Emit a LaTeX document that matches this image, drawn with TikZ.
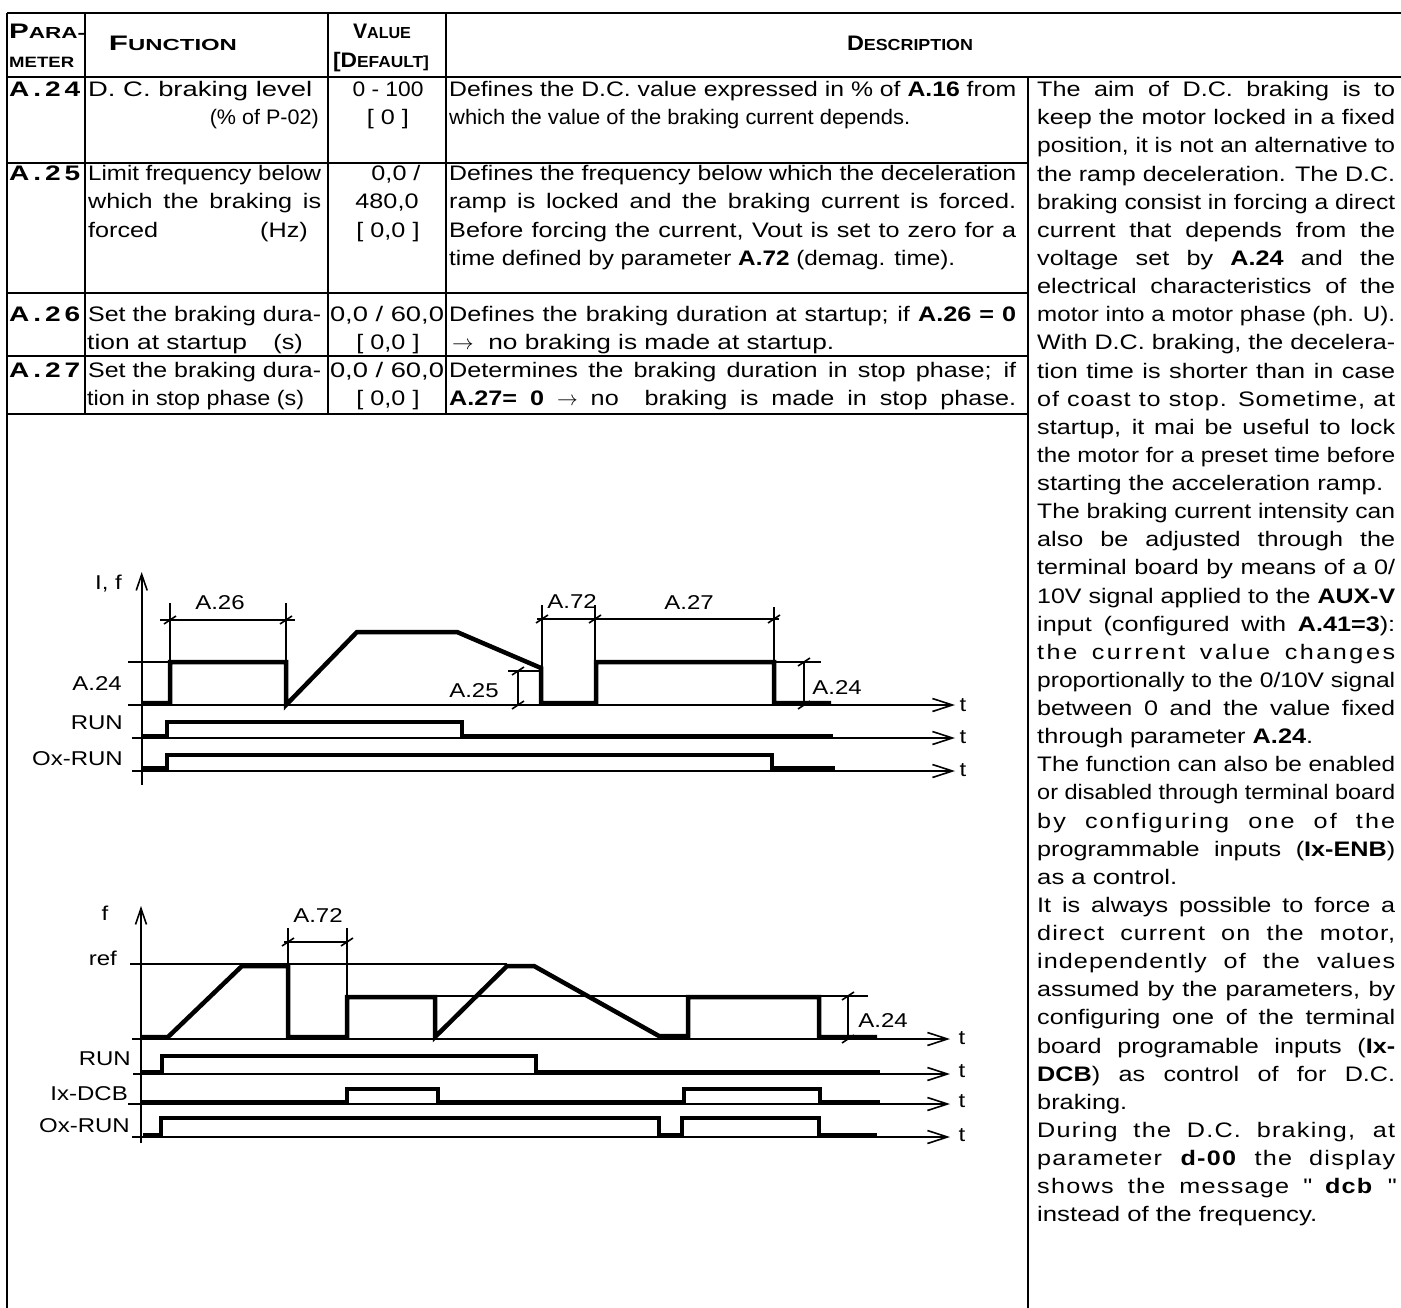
\documentclass[tikz,border=0pt]{standalone}
\usepackage{fontspec}
\setmainfont{Liberation Sans}[FakeStretch=1.2]
\usepackage{graphicx}
\usetikzlibrary{arrows.meta}

\newcommand\rtxt{\fontsize{21}{28.13}\selectfont}
\newcommand\celltxt{\fontsize{21}{27}\selectfont}
\newcommand\lbltxt{\fontsize{20}{22}\selectfont}
\newlength\cw
\setlength\cw{358pt}
\newsavebox\lnbox
% justified line: spaces stretched, squeezed when too long
\newcommand\jl[2]{\sbox\lnbox{#2}\ifdim\wd\lnbox>#1\relax\resizebox{#1}{\height}{\usebox\lnbox}\else\makebox[#1][s]{#2}\fi\strut}
% justified line with letter spacing
\newcommand\lj[2]{{\addfontfeature{LetterSpace=#1}\jl{\cw}{#2}}}
% line scaled to a given width
\newcommand\fl[2]{\resizebox{#1}{\height}{#2}\strut}
\newcommand\hd[2]{\textbf{{\fontsize{21}{21}\selectfont #1}{\fontsize{16}{16}\selectfont #2}}}
\newcommand\tk[1]{\draw[thin] (#1) ++(-6,4) -- ++(12,-8);}

\begin{document}
\begin{tikzpicture}[x=1pt,y=-1pt,
    every node/.style={inner sep=0pt, font=\celltxt},
    grid/.style={line width=2.6pt},
    thin/.style={line width=1.6pt},
    sig/.style={line width=4.5pt, line join=miter},
    taxis/.style={thin, -{Straight Barb[length=20pt,width=13pt]}},
    yaxis/.style={thin, -{Straight Barb[length=16pt,width=11pt]}},
    lbl/.style={font=\lbltxt, anchor=base}]
    \useasboundingbox (0,0) rectangle (1401,1308);

    % table rules
    \draw[grid] (7,13) -- (1401,13);
    \draw[grid] (7,77) -- (1401,77);
    \foreach \yy in {163,293,356,414} \draw[grid] (7,\yy) -- (1028,\yy);
    \draw[grid] (7,13) -- (7,1308);
    \foreach \xx in {85,328,446} \draw[grid] (\xx,13) -- (\xx,414);
    \draw[grid] (1028,77) -- (1028,1308);

    % header
    \node[anchor=base west] (h1) at (9,39) {\fl{76pt}{\hd{P}{ARA-}}};
    \node[anchor=base west] (h2) at (9,68) {\fl{65pt}{\textbf{\fontsize{15}{15}\selectfont METER}}};
    \node[anchor=base] (h3) at (173,51) {\fl{128pt}{\hd{F}{UNCTION}}};
    \node[anchor=base] (h4) at (382,39) {\fl{58pt}{\hd{V}{ALUE}}};
    \node[anchor=base] (h5) at (381,68) {\fl{96pt}{\hd{[D}{EFAULT]}}};
    \node[anchor=base] (h6) at (910,51) {\fl{126pt}{\hd{D}{ESCRIPTION}}};

    % A.24
    \node[anchor=base west] (p24) at (9,96.5) {\fl{71pt}{\textbf{A\,.\,2\,4}}};
    \node[anchor=base west] (f24a) at (88,96.5) {\fl{224pt}{D. C. braking level}};
    \node[anchor=base east] (f24b) at (319,124.6) {\fl{109pt}{(\% of P-02)}};
    \node[anchor=base] (v24a) at (388,96.5) {\fl{71pt}{0 - 100}};
    \node[anchor=base] (v24b) at (388,124.6) {[ 0 ]};
    \node[anchor=base west] (d24a) at (449,96.5) {\jl{567pt}{Defines the D.C. value expressed in \% of \textbf{A.16} from}};
    \node[anchor=base west] (d24b) at (449,124.6) {\fl{461pt}{which the value of the braking current depends.}};

    % A.25
    \node[anchor=base west] (p25) at (9,180.9) {\fl{71pt}{\textbf{A\,.\,2\,5}}};
    \node[anchor=base west] (f25a) at (88,180.9) {\jl{233pt}{Limit frequency below}};
    \node[anchor=base west] (f25b) at (88,209) {\jl{233pt}{which the braking is}};
    \node[anchor=base west] (f25c) at (88,237.2) {forced};
    \node[anchor=base east] (f25d) at (308,237.2) {(Hz)};
    \node[anchor=base] (v25a) at (396,180.9) {0,0 /};
    \node[anchor=base] (v25b) at (387,209) {480,0};
    \node[anchor=base] (v25c) at (388,237.2) {[ 0,0 ]};
    \node[anchor=base west] (d25a) at (449,180.9) {\jl{567pt}{Defines the frequency below which the deceleration}};
    \node[anchor=base west] (d25b) at (449,209) {\jl{567pt}{ramp is locked and the braking current is forced.}};
    \node[anchor=base west] (d25c) at (449,237.2) {\jl{567pt}{Before forcing the current, Vout is set to zero for a}};
    \node[anchor=base west] (d25d) at (449,265.3) {\fl{506pt}{time defined by parameter \textbf{A.72} (demag. time).}};

    % A.26
    \node[anchor=base west] (p26) at (9,321.5) {\fl{71pt}{\textbf{A\,.\,2\,6}}};
    \node[anchor=base west] (f26a) at (88,321.5) {\jl{233pt}{Set the braking dura-}};
    \node[anchor=base west] (f26b) at (87,349.7) {\fl{160pt}{tion at startup}};
    \node[anchor=base east] (f26c) at (303,349.7) {(s)};
    \node[anchor=base] (v26a) at (387,321.5) {\fl{114pt}{0,0 / 60,0}};
    \node[anchor=base] (v26b) at (388,349.7) {[ 0,0 ]};
    \node[anchor=base west] (d26a) at (449,321.5) {\jl{567pt}{Defines the braking duration at startup; if \textbf{A.26 = 0}}};
    \node[anchor=base west] (d26b) at (452,349.7) {\fl{382pt}{$\rightarrow$\ \ no braking is made at startup.}};

    % A.27
    \node[anchor=base west] (p27) at (9,377.8) {\fl{71pt}{\textbf{A\,.\,2\,7}}};
    \node[anchor=base west] (f27a) at (88,377.8) {\jl{233pt}{Set the braking dura-}};
    \node[anchor=base west] (f27b) at (87,405.9) {\fl{217pt}{tion in stop phase (s)}};
    \node[anchor=base] (v27a) at (387,377.8) {\fl{114pt}{0,0 / 60,0}};
    \node[anchor=base] (v27b) at (388,405.9) {[ 0,0 ]};
    \node[anchor=base west] (d27a) at (449,377.8) {\jl{567pt}{Determines the braking duration in stop phase; if}};
    \node[anchor=base west] (d27b) at (449,405.9) {\jl{567pt}{\textbf{A.27= 0} $\rightarrow$ no\ \ braking is made in stop phase.}};

    % right column
    \node[anchor=north west, align=left, font=\rtxt] (rtext) at (1037,76.8) {%
        \jl{\cw}{The aim of D.C. braking is to}\\
        \jl{\cw}{keep the motor locked in a fixed}\\
        \jl{\cw}{position, it is not an alternative to}\\
        \jl{\cw}{the ramp deceleration. The D.C.}\\
        \jl{\cw}{braking consist in forcing a direct}\\
        \jl{\cw}{current that depends from the}\\
        \jl{\cw}{voltage set by \textbf{A.24} and the}\\
        \jl{\cw}{electrical characteristics of the}\\
        \jl{\cw}{motor into a motor phase (ph. U).}\\
        \jl{\cw}{With D.C. braking, the decelera-}\\
        \jl{\cw}{tion time is shorter than in case}\\
        \lj{4}{of coast to stop. Sometime, at}\\
        \jl{\cw}{startup, it mai be useful to lock}\\
        \jl{\cw}{the motor for a preset time before}\\
        \fl{346pt}{starting the acceleration ramp.}\\
        \jl{\cw}{The braking current intensity can}\\
        \jl{\cw}{also be adjusted through the}\\
        \jl{\cw}{terminal board by means of a 0/}\\
        \jl{\cw}{10V signal applied to the \textbf{AUX-V}}\\
        \jl{\cw}{input (configured with \textbf{A.41=3}):}\\
        \lj{12}{the current value changes}\\
        \jl{\cw}{proportionally to the 0/10V signal}\\
        \jl{\cw}{between 0 and the value fixed}\\
        \fl{276pt}{through parameter \textbf{A.24}.}\\
        \jl{\cw}{The function can also be enabled}\\
        \jl{\cw}{or disabled through terminal board}\\
        \lj{10}{by configuring one of the}\\
        \jl{\cw}{programmable inputs (\textbf{Ix-ENB})}\\
        \fl{140pt}{as a control.}\\
        \jl{\cw}{It is always possible to force a}\\
        \lj{5}{direct current on the motor,}\\
        \lj{5}{independently of the values}\\
        \jl{\cw}{assumed by the parameters, by}\\
        \jl{\cw}{configuring one of the terminal}\\
        \jl{\cw}{board programable inputs (\textbf{Ix-}}\\
        \jl{\cw}{\textbf{DCB}) as control of for D.C.}\\
        \fl{90pt}{braking.}\\
        \lj{6}{During the D.C. braking, at}\\
        \lj{6}{parameter \textbf{d-00} the display}\\
        \lj{6}{shows the message \textquotedbl\ \textbf{dcb} \textquotedbl}\\
        \fl{280pt}{instead of the frequency.}};

    % upper chart: current and frequency
    \draw[yaxis] (141.7,785) -- (141.7,572);
    \draw[taxis] (128,705) -- (955,705);
    \draw[taxis] (132,738) -- (955,738);
    \draw[taxis] (132,771) -- (955,771);
    \draw[thin] (128,662) -- (170,662);
    \draw[thin] (170,603) -- (170,662);
    \draw[thin] (286,603) -- (286,705);
    \draw[thin] (160,620) -- (295,620);
    \draw[thin] (508,671) -- (540,671);
    \draw[thin] (518,671) -- (518,705);
    \draw[thin] (542,605) -- (542,668);
    \draw[thin] (595,605) -- (595,662);
    \draw[thin] (537,619) -- (779,619);
    \draw[thin] (774,607) -- (774,662);
    \draw[thin] (774,662) -- (821,662);
    \draw[thin] (804,662) -- (804,705);
    \tk{170,620} \tk{286,620} \tk{518,671} \tk{518,705}
    \tk{542,619} \tk{595,619} \tk{774,619} \tk{804,662} \tk{804,705}
    \draw[sig] (143,703) -- (170,703) -- (170,662) -- (286,662) -- (286,705) -- (357,632) -- (457,632)
        -- (541,668) -- (541,703) -- (596,703) -- (596,662) -- (774,662) -- (774,703) -- (831,703);
    \draw[sig] (143,736) -- (167,736) -- (167,722) -- (462,722) -- (462,736) -- (833,736);
    \draw[sig] (143,768) -- (167,768) -- (167,755) -- (772,755) -- (772,768) -- (835,768);
    \node[lbl, anchor=base east] (uif) at (122,589) {I, f};
    \node[lbl, anchor=base east] (ua24) at (122,690) {A.24};
    \node[lbl, anchor=base east] (urun) at (123,729) {RUN};
    \node[lbl, anchor=base east] (uox) at (123,765) {Ox-RUN};
    \node[lbl] (u26) at (220,609) {A.26};
    \node[lbl] (u25) at (474,697) {A.25};
    \node[lbl] (u72) at (572,608) {A.72};
    \node[lbl] (u27) at (689,609) {A.27};
    \node[lbl] (u24) at (837,694) {A.24};
    \node[lbl] (ut1) at (963,711) {t};
    \node[lbl] (ut2) at (963,743) {t};
    \node[lbl] (ut3) at (963,776) {t};

    % lower chart: frequency with Ix-DCB
    \draw[yaxis] (141,1143) -- (141,906);
    \draw[thin] (130,964) -- (507,964);
    \draw[thin] (347,996) -- (868,996);
    \draw[taxis] (132,1039) -- (950,1039);
    \draw[taxis] (133,1074) -- (950,1074);
    \draw[taxis] (128,1104) -- (950,1104);
    \draw[taxis] (132,1137) -- (950,1137);
    \draw[thin] (288,928) -- (288,1039);
    \draw[thin] (347,928) -- (347,996);
    \draw[thin] (284,942) -- (348,942);
    \draw[thin] (848,996) -- (848,1039);
    \tk{288,942} \tk{347,942} \tk{848,996} \tk{848,1039}
    \draw[sig] (142,1037) -- (168,1037) -- (242,966) -- (288,966) -- (288,1037) -- (347,1037) -- (347,997)
        -- (435,997) -- (435,1037) -- (507,966) -- (534,966) -- (659,1036) -- (688,1036) -- (688,997)
        -- (819,997) -- (819,1037) -- (877,1037);
    \draw[sig] (142,1072) -- (162,1072) -- (162,1056) -- (536,1056) -- (536,1072) -- (880,1072);
    \draw[sig] (142,1102) -- (347,1102) -- (347,1089) -- (438,1089) -- (438,1102) -- (684,1102)
        -- (684,1089) -- (820,1089) -- (820,1102) -- (880,1102);
    \draw[sig] (143,1135) -- (161,1135) -- (161,1118) -- (659,1118) -- (659,1135) -- (682,1135)
        -- (682,1118) -- (819,1118) -- (819,1135) -- (877,1135);
    \node[lbl] (lf) at (105,920) {f};
    \node[lbl] (l72) at (318,922) {A.72};
    \node[lbl, anchor=base east] (lref) at (117,965) {ref};
    \node[lbl] (l24) at (883,1027) {A.24};
    \node[lbl, anchor=base east] (lrun) at (131,1065) {RUN};
    \node[lbl, anchor=base east] (ldcb) at (128,1100) {Ix-DCB};
    \node[lbl, anchor=base east] (lox) at (130,1132) {Ox-RUN};
    \node[lbl] (lt1) at (962,1044) {t};
    \node[lbl] (lt2) at (962,1077) {t};
    \node[lbl] (lt3) at (962,1107) {t};
    \node[lbl] (lt4) at (962,1141) {t};
\end{tikzpicture}
\end{document}
